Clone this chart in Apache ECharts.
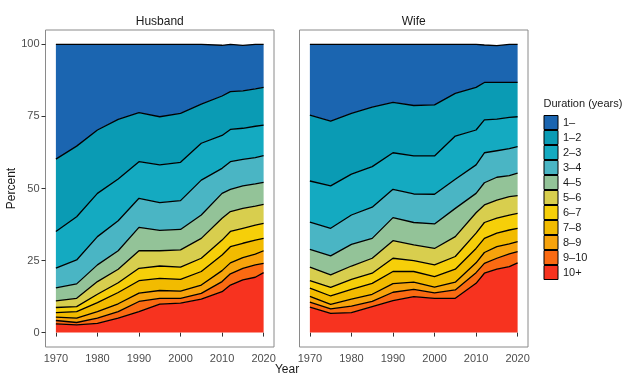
<!DOCTYPE html>
<html><head><meta charset="utf-8">
<script src="https://cdn.jsdelivr.net/npm/echarts@6/dist/echarts.min.js"></script>
<style>html,body{margin:0;padding:0;background:#fff}#c{width:627px;height:388px}</style>
</head><body><div id="c"></div>
<script>
const years = [1970,1975,1980,1985,1990,1995,2000,2005,2010,2012,2015,2018,2020];
const categories = ['1–','1–2','2–3','3–4','4–5','5–6','6–7','7–8','8–9','9–10','10+'];
const colors = ['#1B65B0','#0A9BB4','#14AAC1','#4AB5C4','#93C398','#D8CE4E','#F6CF09','#F2BB00','#F7A30C','#FA6A12','#F7331F'];
const xTicks = [1970,1980,1990,2000,2010,2020];
const yTicks = [0,25,50,75,100];

// Husband shares (%) per duration category
const husband1    = [39.8,35.3,29.7,26.0,23.7,25.1,23.9,20.7,17.6,16.4,15.8,15.4,14.9];
const husband1to2 = [25.1,24.5,22.0,20.7,17.0,16.7,17.0,13.6,13.7,13.1,13.0,13.0,13.1];
const husband2to3 = [12.7,15.0,15.0,14.5,12.7,13.1,13.3,12.8,11.4,11.2,10.8,10.9,10.6];
const husband3to4 = [6.9,8.3,9.8,10.4,10.1,9.6,10.0,12.1,8.7,9.6,9.2,9.1,9.3];
const husband4to5 = [4.5,5.0,5.8,6.4,8.1,7.1,7.1,8.1,8.6,7.7,7.8,7.7,7.6];
const husband5to6 = [2.3,2.9,4.4,4.7,6.1,5.3,6.0,6.9,7.6,6.9,6.9,6.6,6.6];
const husband6to7 = [1.8,1.7,2.9,3.4,4.3,4.3,4.2,4.6,5.2,5.3,5.2,5.2,5.2];
const husband7to8 = [1.5,2.3,3.1,3.9,4.3,4.2,4.1,4.7,5.4,5.6,5.0,4.9,4.3];
const husband8to9 = [1.2,1.5,2.3,2.7,2.9,2.7,2.5,2.9,3.8,3.8,3.7,3.7,4.4];
const husband9to10= [1.2,0.8,1.8,2.3,3.5,2.0,1.7,2.0,3.5,3.9,4.0,4.3,3.2];
const husband10   = [3.0,2.7,3.2,5.0,7.3,9.9,10.2,11.6,14.2,16.5,18.3,19.2,20.8];

// Wife shares (%) per duration category
const wife1    = [24.5,26.6,23.9,21.8,20.1,21.2,21.0,17.0,14.9,13.0,12.8,13.2,13.2];
const wife1to2 = [22.9,22.5,21.1,20.6,17.5,17.5,17.7,14.8,14.8,13.0,12.7,12.1,11.9];
const wife2to3 = [14.3,14.7,14.2,14.1,12.7,13.2,13.3,15.0,12.1,11.4,11.0,10.9,10.4];
const wife3to4 = [9.4,9.6,10.2,10.8,9.8,9.9,10.3,10.1,9.9,10.4,9.2,9.3,9.2];
const wife4to5 = [6.2,6.6,7.5,6.9,8.0,7.8,8.5,9.8,6.7,7.7,7.9,7.3,7.8];
const wife5to6 = [4.7,4.3,4.6,5.2,6.1,5.4,5.7,6.9,7.1,6.1,6.3,6.4,6.1];
const wife6to7 = [2.6,3.0,3.5,3.5,4.6,3.8,4.1,4.4,5.3,5.5,5.2,5.2,5.2];
const wife7to8 = [2.8,2.9,3.4,3.8,4.2,3.7,3.6,4.5,5.0,4.9,4.7,4.8,4.6];
const wife8to9 = [2.0,1.6,2.4,2.5,3.0,2.5,2.0,2.7,3.4,3.8,4.0,3.5,3.5];
const wife9to10= [1.8,1.5,2.3,1.8,2.9,2.5,1.9,2.9,3.7,3.4,3.8,4.4,3.9];
const wife10   = [8.8,6.7,6.9,9.0,11.1,12.5,11.9,11.9,17.1,20.6,22.0,22.9,24.2];

const husbandAll = [husband1,husband1to2,husband2to3,husband3to4,husband4to5,husband5to6,husband6to7,husband7to8,husband8to9,husband9to10,husband10];
const wifeAll = [wife1,wife1to2,wife2to3,wife3to4,wife4to5,wife5to6,wife6to7,wife7to8,wife8to9,wife9to10,wife10];

const FONT = '"Liberation Sans", Arial, Helvetica, sans-serif';
const panels = [
  {left: 45.5, width: 228.5, data: husbandAll, title: 'Husband'},
  {left: 299.5, width: 228.5, data: wifeAll, title: 'Wife'}
];
const gridTop = 30, gridHeight = 317;

const grids = [], xAxes = [], yAxes = [], series = [], graphics = [];
panels.forEach((p, pi) => {
  grids.push({left: p.left, width: p.width, top: gridTop, height: gridHeight, show: true,
    borderColor: '#8a8a8a', borderWidth: 1, backgroundColor: 'transparent', containLabel: false});
  xAxes.push({type: 'value', gridIndex: pi, min: 1967.5, max: 2022.5,
    axisLine: {show: false}, splitLine: {show: false},
    axisTick: {show: true, customValues: xTicks, length: 4, lineStyle: {color: '#333', width: 1}},
    axisLabel: {customValues: xTicks, margin: 6, fontSize: 11, color: '#4d4d4d', fontFamily: FONT,
      formatter: v => String(v)}});
  yAxes.push({type: 'value', gridIndex: pi, min: -5, max: 105,
    axisLine: {show: false}, splitLine: {show: false},
    axisTick: {show: pi === 0, customValues: yTicks, length: 4, lineStyle: {color: '#333', width: 1}},
    axisLabel: {show: pi === 0, customValues: yTicks, margin: 6, fontSize: 11, color: '#4d4d4d', fontFamily: FONT,
      formatter: v => String(v)}});
  for (let i = categories.length - 1; i >= 0; i--) {
    const vals = p.data[i];
    series.push({
      name: categories[i], type: 'line', xAxisIndex: pi, yAxisIndex: pi, stack: 'panel' + pi,
      // value first so that the library stacks the percentage (y) dimension
      data: years.map((y, k) => [vals[k], y]),
      encode: {x: 1, y: 0},
      symbol: 'none', silent: true, animation: false,
      color: colors[i], itemStyle: {color: colors[i]},
      lineStyle: {color: '#000', width: 1.3},
      areaStyle: {color: colors[i], opacity: 1},
      z: 3 + i, emphasis: {disabled: true}
    });
  }
  graphics.push({type: 'text', x: p.left + p.width / 2, y: 22,
    style: {text: p.title, textAlign: 'center', textVerticalAlign: 'middle', font: '12px ' + FONT, fill: '#1a1a1a'}});
});
graphics.push({type: 'text', x: 287, y: 370,
  style: {text: 'Year', textAlign: 'center', textVerticalAlign: 'middle', font: '12px ' + FONT, fill: '#1a1a1a'}});
graphics.push({type: 'text', x: 12, y: 188.5, rotation: Math.PI / 2,
  style: {text: 'Percent', textAlign: 'center', textVerticalAlign: 'middle', font: '12px ' + FONT, fill: '#1a1a1a'}});
graphics.push({type: 'text', x: 543.5, y: 104,
  style: {text: 'Duration (years)', textAlign: 'left', textVerticalAlign: 'middle', font: '11px ' + FONT, fill: '#1a1a1a'}});

const chart = echarts.init(document.getElementById('c'), null, {renderer: 'canvas'});
chart.setOption({
  animation: false,
  backgroundColor: '#fff',
  grid: grids, xAxis: xAxes, yAxis: yAxes, series: series,
  legend: {orient: 'vertical', left: 543.5, top: 115, itemWidth: 14, itemHeight: 14, itemGap: 0,
    icon: 'rect', data: categories, selectedMode: false, padding: 0,
    itemStyle: {borderColor: '#000', borderWidth: 1},
    textStyle: {fontSize: 11, lineHeight: 14, color: '#1a1a1a', fontFamily: FONT}},
  graphic: graphics
});
</script></body></html>
